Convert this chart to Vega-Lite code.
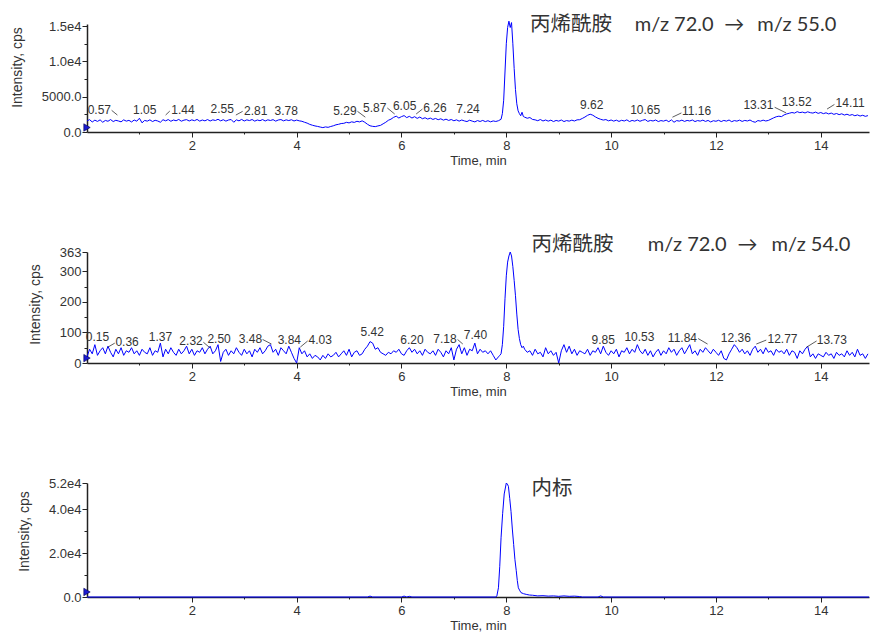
{
"$schema": "https://vega.github.io/schema/vega-lite/v6.json",
"padding": {"left": 10, "top": 15, "right": 0, "bottom": 0},
"autosize": {"type": "pad"},
"background": "white",
"spacing": 120,
"bounds": "flush",
"resolve": {"scale": {"y": "independent", "x": "independent"}},
"config": {
  "view": {"stroke": null},
  "axis": {"grid": false, "domainColor": "#222", "domainWidth": 1.5, "tickColor": "#222", "tickWidth": 1, "labelFont": "Liberation Sans", "labelFontSize": 13, "labelColor": "#333", "titleFont": "Liberation Sans", "titleFontWeight": "normal", "titleColor": "#333", "zindex": 1, "labelOverlap": false, "labelFlush": false},
  "axisX": {"titleFontSize": 13, "labelPadding": 2, "titlePadding": 2},
  "axisY": {"titleFontSize": 14, "labelPadding": 1, "titlePadding": 17}
},
"datasets": {
"a": [
{"t":0,"v":1580},{"t":0.05,"v":1750},{"t":0.1,"v":1420},{"t":0.15,"v":1680},{"t":0.2,"v":1500},{"t":0.25,"v":1720},{"t":0.3,"v":1380},{"t":0.35,"v":1640},{"t":0.4,"v":1520},{"t":0.45,"v":1760},{"t":0.5,"v":1480},{"t":0.55,"v":1660},{"t":0.6,"v":1560},{"t":0.65,"v":1440},{"t":0.7,"v":1720},{"t":0.75,"v":1540},{"t":0.8,"v":1650},{"t":0.85,"v":1420},{"t":0.9,"v":1700},{"t":0.95,"v":1530},
{"t":1,"v":1950},{"t":1.05,"v":1300},{"t":1.1,"v":1640},{"t":1.15,"v":1540},{"t":1.2,"v":1720},{"t":1.25,"v":1480},{"t":1.3,"v":1660},{"t":1.35,"v":1560},{"t":1.4,"v":1380},{"t":1.45,"v":1740},{"t":1.5,"v":1580},{"t":1.55,"v":1760},{"t":1.6,"v":1520},{"t":1.65,"v":1700},{"t":1.7,"v":1590},{"t":1.75,"v":1780},{"t":1.8,"v":1530},{"t":1.85,"v":1680},{"t":1.9,"v":1750},{"t":1.95,"v":1560},
{"t":2,"v":1720},{"t":2.05,"v":1600},{"t":2.1,"v":1780},{"t":2.15,"v":1540},{"t":2.2,"v":1700},{"t":2.25,"v":1580},{"t":2.3,"v":1760},{"t":2.35,"v":1560},{"t":2.4,"v":1720},{"t":2.45,"v":1630},{"t":2.5,"v":1800},{"t":2.55,"v":1580},{"t":2.6,"v":1740},{"t":2.65,"v":1540},{"t":2.7,"v":1700},{"t":2.75,"v":1770},{"t":2.8,"v":1380},{"t":2.85,"v":1720},{"t":2.9,"v":1580},{"t":2.95,"v":1780},
{"t":3,"v":1560},{"t":3.05,"v":1720},{"t":3.1,"v":1620},{"t":3.15,"v":1770},{"t":3.2,"v":1540},{"t":3.25,"v":1700},{"t":3.3,"v":1600},{"t":3.35,"v":1760},{"t":3.4,"v":1560},{"t":3.45,"v":1720},{"t":3.5,"v":1630},{"t":3.55,"v":1750},{"t":3.6,"v":1540},{"t":3.65,"v":1700},{"t":3.7,"v":1760},{"t":3.75,"v":1580},{"t":3.8,"v":1720},{"t":3.85,"v":1620},{"t":3.9,"v":1740},{"t":3.95,"v":1560},
{"t":4,"v":1690},{"t":4.05,"v":1580},{"t":4.1,"v":1520},{"t":4.15,"v":1380},{"t":4.2,"v":1260},{"t":4.25,"v":1080},{"t":4.3,"v":960},{"t":4.35,"v":860},{"t":4.4,"v":790},{"t":4.45,"v":700},{"t":4.5,"v":620},{"t":4.55,"v":720},{"t":4.6,"v":660},{"t":4.65,"v":780},{"t":4.7,"v":880},{"t":4.75,"v":1020},{"t":4.8,"v":1090},{"t":4.85,"v":1200},{"t":4.9,"v":1230},{"t":4.95,"v":1370},
{"t":5,"v":1290},{"t":5.05,"v":1440},{"t":5.1,"v":1360},{"t":5.15,"v":1520},{"t":5.2,"v":1430},{"t":5.25,"v":1580},{"t":5.3,"v":1380},{"t":5.35,"v":1100},{"t":5.4,"v":880},{"t":5.45,"v":800},{"t":5.5,"v":760},{"t":5.55,"v":860},{"t":5.6,"v":940},{"t":5.65,"v":1160},{"t":5.7,"v":1380},{"t":5.75,"v":1660},{"t":5.8,"v":1820},{"t":5.85,"v":2080},{"t":5.9,"v":2240},{"t":5.95,"v":1980},
{"t":6,"v":2180},{"t":6.05,"v":2320},{"t":6.1,"v":2040},{"t":6.15,"v":2220},{"t":6.2,"v":1980},{"t":6.25,"v":2170},{"t":6.3,"v":1930},{"t":6.35,"v":2120},{"t":6.4,"v":1880},{"t":6.45,"v":2020},{"t":6.5,"v":1830},{"t":6.55,"v":1970},{"t":6.6,"v":1780},{"t":6.65,"v":1920},{"t":6.7,"v":1740},{"t":6.75,"v":1870},{"t":6.8,"v":1680},{"t":6.85,"v":1820},{"t":6.9,"v":1640},{"t":6.95,"v":1770},
{"t":7,"v":1590},{"t":7.05,"v":1720},{"t":7.1,"v":1540},{"t":7.15,"v":1700},{"t":7.2,"v":1570},{"t":7.25,"v":1480},{"t":7.3,"v":1670},{"t":7.35,"v":1540},{"t":7.4,"v":1430},{"t":7.45,"v":1620},{"t":7.5,"v":1490},{"t":7.55,"v":1640},{"t":7.6,"v":1470},{"t":7.65,"v":1600},{"t":7.7,"v":1440},{"t":7.75,"v":1570},{"t":7.8,"v":1490},{"t":7.85,"v":1600},{"t":7.9,"v":1800},
{"t":7.925,"v":2600},{"t":7.95,"v":4500},{"t":7.975,"v":8500},{"t":8,"v":12500},{"t":8.025,"v":14800},{"t":8.05,"v":15700},{"t":8.075,"v":14800},{"t":8.1,"v":15500},{"t":8.125,"v":12500},{"t":8.15,"v":9000},{"t":8.175,"v":6000},{"t":8.2,"v":4000},{"t":8.225,"v":3000},{"t":8.25,"v":2600},{"t":8.275,"v":2300},{"t":8.3,"v":2800},{"t":8.325,"v":2200},{"t":8.35,"v":2100},
{"t":8.4,"v":1950},{"t":8.45,"v":2050},{"t":8.5,"v":1780},{"t":8.55,"v":1720},{"t":8.6,"v":1600},{"t":8.65,"v":1770},{"t":8.7,"v":1560},{"t":8.75,"v":1700},{"t":8.8,"v":1540},{"t":8.85,"v":1680},{"t":8.9,"v":1480},{"t":8.95,"v":1640},
{"t":9,"v":1540},{"t":9.05,"v":1700},{"t":9.1,"v":1480},{"t":9.15,"v":1620},{"t":9.2,"v":1540},{"t":9.25,"v":1680},{"t":9.3,"v":1560},{"t":9.35,"v":1720},{"t":9.4,"v":1740},{"t":9.45,"v":1920},{"t":9.5,"v":2120},{"t":9.55,"v":2360},{"t":9.6,"v":2520},{"t":9.65,"v":2380},{"t":9.7,"v":2140},{"t":9.75,"v":1940},{"t":9.8,"v":1800},{"t":9.85,"v":1690},{"t":9.9,"v":1760},{"t":9.95,"v":1580},
{"t":10,"v":1700},{"t":10.05,"v":1540},{"t":10.1,"v":1680},{"t":10.15,"v":1500},{"t":10.2,"v":1660},{"t":10.25,"v":1560},{"t":10.3,"v":1720},{"t":10.35,"v":1480},{"t":10.4,"v":1640},{"t":10.45,"v":1540},{"t":10.5,"v":1700},{"t":10.55,"v":1520},{"t":10.6,"v":1660},{"t":10.65,"v":1760},{"t":10.7,"v":1500},{"t":10.75,"v":1640},{"t":10.8,"v":1560},{"t":10.85,"v":1700},{"t":10.9,"v":1480},{"t":10.95,"v":1620},
{"t":11,"v":1540},{"t":11.05,"v":1680},{"t":11.1,"v":1460},{"t":11.15,"v":1720},{"t":11.2,"v":1380},{"t":11.25,"v":1620},{"t":11.3,"v":1540},{"t":11.35,"v":1680},{"t":11.4,"v":1500},{"t":11.45,"v":1640},{"t":11.5,"v":1560},{"t":11.55,"v":1700},{"t":11.6,"v":1480},{"t":11.65,"v":1620},{"t":11.7,"v":1540},{"t":11.75,"v":1680},{"t":11.8,"v":1500},{"t":11.85,"v":1640},{"t":11.9,"v":1420},{"t":11.95,"v":1600},
{"t":12,"v":1520},{"t":12.05,"v":1660},{"t":12.1,"v":1480},{"t":12.15,"v":1640},{"t":12.2,"v":1540},{"t":12.25,"v":1700},{"t":12.3,"v":1460},{"t":12.35,"v":1620},{"t":12.4,"v":1540},{"t":12.45,"v":1680},{"t":12.5,"v":1500},{"t":12.55,"v":1640},{"t":12.6,"v":1560},{"t":12.65,"v":1700},{"t":12.7,"v":1480},{"t":12.75,"v":1380},{"t":12.8,"v":1620},{"t":12.85,"v":1540},{"t":12.9,"v":1680},{"t":12.95,"v":1560},
{"t":13,"v":1640},{"t":13.05,"v":1820},{"t":13.1,"v":2000},{"t":13.15,"v":2160},{"t":13.2,"v":2240},{"t":13.25,"v":2180},{"t":13.3,"v":2420},{"t":13.35,"v":2560},{"t":13.4,"v":2660},{"t":13.45,"v":2760},{"t":13.5,"v":2680},{"t":13.55,"v":2880},{"t":13.6,"v":2740},{"t":13.65,"v":2820},{"t":13.7,"v":2700},{"t":13.75,"v":2860},{"t":13.8,"v":2740},{"t":13.85,"v":2680},{"t":13.9,"v":2820},{"t":13.95,"v":2640},
{"t":14,"v":2760},{"t":14.05,"v":2600},{"t":14.1,"v":2720},{"t":14.15,"v":2560},{"t":14.2,"v":2680},{"t":14.25,"v":2500},{"t":14.3,"v":2620},{"t":14.35,"v":2460},{"t":14.4,"v":2580},{"t":14.45,"v":2400},{"t":14.5,"v":2520},{"t":14.55,"v":2360},{"t":14.6,"v":2470},{"t":14.65,"v":2300},{"t":14.7,"v":2420},{"t":14.75,"v":2260},{"t":14.8,"v":2370},{"t":14.85,"v":2220},{"t":14.9,"v":2320}
],
"b": [
{"t":0,"v":20},{"t":0.05,"v":45},{"t":0.1,"v":30},{"t":0.15,"v":60},{"t":0.2,"v":25},{"t":0.25,"v":40},{"t":0.3,"v":50},{"t":0.35,"v":30},{"t":0.4,"v":55},{"t":0.45,"v":35},{"t":0.5,"v":20},{"t":0.55,"v":45},{"t":0.6,"v":30},{"t":0.65,"v":50},{"t":0.7,"v":25},{"t":0.75,"v":40},{"t":0.8,"v":35},{"t":0.85,"v":50},{"t":0.9,"v":30},{"t":0.95,"v":40},
{"t":1,"v":25},{"t":1.05,"v":45},{"t":1.1,"v":35},{"t":1.15,"v":30},{"t":1.2,"v":50},{"t":1.25,"v":25},{"t":1.3,"v":40},{"t":1.35,"v":35},{"t":1.4,"v":65},{"t":1.45,"v":20},{"t":1.5,"v":45},{"t":1.55,"v":30},{"t":1.6,"v":50},{"t":1.65,"v":35},{"t":1.7,"v":25},{"t":1.75,"v":45},{"t":1.8,"v":30},{"t":1.85,"v":40},{"t":1.9,"v":55},{"t":1.95,"v":30},
{"t":2,"v":45},{"t":2.05,"v":25},{"t":2.1,"v":40},{"t":2.15,"v":35},{"t":2.2,"v":50},{"t":2.25,"v":30},{"t":2.3,"v":45},{"t":2.35,"v":55},{"t":2.4,"v":30},{"t":2.45,"v":40},{"t":2.5,"v":60},{"t":2.55,"v":5},{"t":2.6,"v":35},{"t":2.65,"v":45},{"t":2.7,"v":25},{"t":2.75,"v":40},{"t":2.8,"v":30},{"t":2.85,"v":50},{"t":2.9,"v":35},{"t":2.95,"v":25},
{"t":3,"v":45},{"t":3.05,"v":30},{"t":3.1,"v":40},{"t":3.15,"v":20},{"t":3.2,"v":45},{"t":3.25,"v":35},{"t":3.3,"v":50},{"t":3.35,"v":30},{"t":3.4,"v":40},{"t":3.45,"v":55},{"t":3.5,"v":60},{"t":3.55,"v":35},{"t":3.6,"v":45},{"t":3.65,"v":25},{"t":3.7,"v":50},{"t":3.75,"v":40},{"t":3.8,"v":30},{"t":3.85,"v":55},{"t":3.9,"v":35},{"t":3.95,"v":15},
{"t":4,"v":0},{"t":4.05,"v":50},{"t":4.1,"v":30},{"t":4.15,"v":40},{"t":4.2,"v":20},{"t":4.25,"v":30},{"t":4.3,"v":15},{"t":4.35,"v":25},{"t":4.4,"v":20},{"t":4.45,"v":10},{"t":4.5,"v":25},{"t":4.55,"v":15},{"t":4.6,"v":30},{"t":4.65,"v":20},{"t":4.7,"v":25},{"t":4.75,"v":35},{"t":4.8,"v":20},{"t":4.85,"v":30},{"t":4.9,"v":40},{"t":4.95,"v":25},
{"t":5,"v":45},{"t":5.05,"v":20},{"t":5.1,"v":35},{"t":5.15,"v":40},{"t":5.2,"v":25},{"t":5.25,"v":30},{"t":5.3,"v":45},{"t":5.35,"v":55},{"t":5.4,"v":70},{"t":5.45,"v":65},{"t":5.5,"v":45},{"t":5.55,"v":50},{"t":5.6,"v":35},{"t":5.65,"v":30},{"t":5.7,"v":25},{"t":5.75,"v":35},{"t":5.8,"v":30},{"t":5.85,"v":40},{"t":5.9,"v":35},{"t":5.95,"v":45},
{"t":6,"v":30},{"t":6.05,"v":25},{"t":6.1,"v":40},{"t":6.15,"v":50},{"t":6.2,"v":35},{"t":6.25,"v":45},{"t":6.3,"v":30},{"t":6.35,"v":40},{"t":6.4,"v":25},{"t":6.45,"v":45},{"t":6.5,"v":35},{"t":6.55,"v":30},{"t":6.6,"v":40},{"t":6.65,"v":25},{"t":6.7,"v":45},{"t":6.75,"v":35},{"t":6.8,"v":20},{"t":6.85,"v":40},{"t":6.9,"v":30},{"t":6.95,"v":50},
{"t":7,"v":10},{"t":7.05,"v":45},{"t":7.1,"v":60},{"t":7.15,"v":30},{"t":7.2,"v":50},{"t":7.25,"v":25},{"t":7.3,"v":45},{"t":7.35,"v":40},{"t":7.4,"v":65},{"t":7.45,"v":30},{"t":7.5,"v":45},{"t":7.55,"v":35},{"t":7.6,"v":40},{"t":7.65,"v":30},{"t":7.7,"v":40},{"t":7.75,"v":25},{"t":7.8,"v":10},{"t":7.85,"v":20},{"t":7.875,"v":25},
{"t":7.9,"v":30},{"t":7.925,"v":60},{"t":7.95,"v":120},{"t":7.975,"v":210},{"t":8,"v":285},{"t":8.025,"v":330},{"t":8.05,"v":350},{"t":8.075,"v":363},{"t":8.1,"v":350},{"t":8.125,"v":315},{"t":8.15,"v":270},{"t":8.175,"v":220},{"t":8.2,"v":160},{"t":8.225,"v":110},{"t":8.25,"v":80},{"t":8.275,"v":60},{"t":8.3,"v":50},{"t":8.325,"v":55},{"t":8.35,"v":45},
{"t":8.4,"v":35},{"t":8.45,"v":40},{"t":8.5,"v":25},{"t":8.55,"v":45},{"t":8.6,"v":30},{"t":8.65,"v":35},{"t":8.7,"v":20},{"t":8.75,"v":50},{"t":8.8,"v":30},{"t":8.85,"v":40},{"t":8.9,"v":25},{"t":8.95,"v":35},
{"t":9,"v":0},{"t":9.05,"v":40},{"t":9.1,"v":60},{"t":9.15,"v":35},{"t":9.2,"v":55},{"t":9.25,"v":30},{"t":9.3,"v":45},{"t":9.35,"v":25},{"t":9.4,"v":40},{"t":9.45,"v":35},{"t":9.5,"v":30},{"t":9.55,"v":45},{"t":9.6,"v":25},{"t":9.65,"v":40},{"t":9.7,"v":35},{"t":9.75,"v":50},{"t":9.8,"v":30},{"t":9.85,"v":55},{"t":9.9,"v":35},{"t":9.95,"v":25},
{"t":10,"v":40},{"t":10.05,"v":30},{"t":10.1,"v":45},{"t":10.15,"v":20},{"t":10.2,"v":40},{"t":10.25,"v":35},{"t":10.3,"v":50},{"t":10.35,"v":30},{"t":10.4,"v":45},{"t":10.45,"v":35},{"t":10.5,"v":60},{"t":10.55,"v":40},{"t":10.6,"v":30},{"t":10.65,"v":45},{"t":10.7,"v":25},{"t":10.75,"v":40},{"t":10.8,"v":20},{"t":10.85,"v":35},{"t":10.9,"v":45},{"t":10.95,"v":25},
{"t":11,"v":40},{"t":11.05,"v":30},{"t":11.1,"v":50},{"t":11.15,"v":35},{"t":11.2,"v":45},{"t":11.25,"v":25},{"t":11.3,"v":40},{"t":11.35,"v":50},{"t":11.4,"v":30},{"t":11.45,"v":45},{"t":11.5,"v":60},{"t":11.55,"v":30},{"t":11.6,"v":40},{"t":11.65,"v":25},{"t":11.7,"v":45},{"t":11.75,"v":35},{"t":11.8,"v":50},{"t":11.85,"v":40},{"t":11.9,"v":30},{"t":11.95,"v":45},
{"t":12,"v":35},{"t":12.05,"v":25},{"t":12.1,"v":40},{"t":12.15,"v":15},{"t":12.2,"v":10},{"t":12.25,"v":30},{"t":12.3,"v":45},{"t":12.35,"v":60},{"t":12.4,"v":50},{"t":12.45,"v":35},{"t":12.5,"v":45},{"t":12.55,"v":30},{"t":12.6,"v":40},{"t":12.65,"v":25},{"t":12.7,"v":45},{"t":12.75,"v":55},{"t":12.8,"v":35},{"t":12.85,"v":45},{"t":12.9,"v":30},{"t":12.95,"v":50},
{"t":13,"v":35},{"t":13.05,"v":40},{"t":13.1,"v":25},{"t":13.15,"v":45},{"t":13.2,"v":35},{"t":13.25,"v":40},{"t":13.3,"v":30},{"t":13.35,"v":45},{"t":13.4,"v":25},{"t":13.45,"v":40},{"t":13.5,"v":35},{"t":13.55,"v":15},{"t":13.6,"v":40},{"t":13.65,"v":30},{"t":13.7,"v":45},{"t":13.75,"v":55},{"t":13.8,"v":20},{"t":13.85,"v":30},{"t":13.9,"v":15},{"t":13.95,"v":30},
{"t":14,"v":25},{"t":14.05,"v":20},{"t":14.1,"v":35},{"t":14.15,"v":25},{"t":14.2,"v":30},{"t":14.25,"v":15},{"t":14.3,"v":35},{"t":14.35,"v":25},{"t":14.4,"v":30},{"t":14.45,"v":20},{"t":14.5,"v":40},{"t":14.55,"v":25},{"t":14.6,"v":35},{"t":14.65,"v":20},{"t":14.7,"v":45},{"t":14.75,"v":25},{"t":14.8,"v":30},{"t":14.85,"v":15},{"t":14.9,"v":30}
],
"c": [
{"t":0,"v":0},{"t":5.35,"v":0},{"t":5.4,"v":400},{"t":5.45,"v":0},{"t":6.0,"v":0},{"t":6.05,"v":400},{"t":6.1,"v":0},{"t":6.15,"v":300},{"t":6.2,"v":0},{"t":7.8,"v":0},{"t":7.82,"v":500},{"t":7.85,"v":4200},{"t":7.875,"v":14000},{"t":7.9,"v":27000},{"t":7.93,"v":38000},{"t":7.96,"v":47000},{"t":8,"v":52000},{"t":8.02,"v":51500},{"t":8.04,"v":50500},{"t":8.065,"v":45000},{"t":8.09,"v":39000},{"t":8.115,"v":31000},{"t":8.14,"v":24000},{"t":8.165,"v":17000},{"t":8.19,"v":12000},{"t":8.21,"v":7500},{"t":8.23,"v":4200},{"t":8.26,"v":2800},{"t":8.28,"v":2000},{"t":8.33,"v":1500},{"t":8.38,"v":1200},{"t":8.44,"v":900},{"t":8.5,"v":800},{"t":8.6,"v":500},{"t":8.7,"v":600},{"t":8.8,"v":400},{"t":8.9,"v":500},{"t":9,"v":300},{"t":9.1,"v":500},{"t":9.2,"v":300},{"t":9.3,"v":400},{"t":9.4,"v":200},{"t":9.45,"v":0},{"t":9.75,"v":0},{"t":9.8,"v":500},{"t":9.85,"v":0},{"t":14.92,"v":0}
],
"labels": [
{"p":1,"x":0.235,"y":3070,"label":"0.57"},{"p":1,"x":1.1,"y":3070,"label":"1.05"},{"p":1,"x":1.83,"y":3070,"label":"1.44"},{"p":1,"x":2.58,"y":3210,"label":"2.55"},{"p":1,"x":3.22,"y":2930,"label":"2.81"},{"p":1,"x":3.8,"y":2930,"label":"3.78"},{"p":1,"x":4.92,"y":2930,"label":"5.29"},{"p":1,"x":5.49,"y":3400,"label":"5.87"},{"p":1,"x":6.06,"y":3630,"label":"6.05"},{"p":1,"x":6.64,"y":3400,"label":"6.26"},{"p":1,"x":7.27,"y":3210,"label":"7.24"},{"p":1,"x":9.63,"y":3780,"label":"9.62"},{"p":1,"x":10.65,"y":3070,"label":"10.65"},{"p":1,"x":11.63,"y":2930,"label":"11.16"},{"p":1,"x":12.81,"y":3780,"label":"13.31"},{"p":1,"x":13.54,"y":4250,"label":"13.52"},{"p":1,"x":14.56,"y":4150,"label":"14.11"},
{"p":2,"x":0.2,"y":85,"label":"0.15"},{"p":2,"x":0.765,"y":69,"label":"0.36"},{"p":2,"x":1.4,"y":85,"label":"1.37"},{"p":2,"x":1.985,"y":71,"label":"2.32"},{"p":2,"x":2.52,"y":77,"label":"2.50"},{"p":2,"x":3.12,"y":77,"label":"3.48"},{"p":2,"x":3.86,"y":74,"label":"3.84"},{"p":2,"x":4.45,"y":74,"label":"4.03"},{"p":2,"x":5.44,"y":101,"label":"5.42"},{"p":2,"x":6.2,"y":74,"label":"6.20"},{"p":2,"x":6.83,"y":80,"label":"7.18"},{"p":2,"x":7.41,"y":90,"label":"7.40"},{"p":2,"x":9.85,"y":74,"label":"9.85"},{"p":2,"x":10.54,"y":85,"label":"10.53"},{"p":2,"x":11.36,"y":82,"label":"11.84"},{"p":2,"x":12.38,"y":82,"label":"12.36"},{"p":2,"x":13.27,"y":77,"label":"12.77"},{"p":2,"x":14.21,"y":74,"label":"13.73"}
],
"leads": [
{"p":1,"x":0.47,"y":3070,"x2":0.58,"y2":2400},{"p":1,"x":1.5,"y":2400,"x2":1.58,"y2":2970},{"p":1,"x":2.84,"y":2400,"x2":2.97,"y2":2930},{"p":1,"x":5.16,"y":2930,"x2":5.31,"y2":2100},{"p":1,"x":5.73,"y":3400,"x2":5.87,"y2":2550},{"p":1,"x":6.28,"y":2550,"x2":6.4,"y2":3250},{"p":1,"x":11.17,"y":2100,"x2":11.34,"y2":2700},{"p":1,"x":13.12,"y":3500,"x2":13.34,"y2":2700},{"p":1,"x":14.12,"y":3250,"x2":14.26,"y2":3900},
{"p":2,"x":0.4,"y":52,"x2":0.53,"y2":65},{"p":2,"x":2.22,"y":68,"x2":2.35,"y2":49},{"p":2,"x":3.35,"y":77,"x2":3.52,"y2":62},{"p":2,"x":4.07,"y":52,"x2":4.21,"y2":72},{"p":2,"x":7.07,"y":77,"x2":7.17,"y2":62},{"p":2,"x":11.66,"y":80,"x2":11.84,"y2":62},{"p":2,"x":12.77,"y":62,"x2":12.96,"y2":75},{"p":2,"x":13.73,"y":52,"x2":13.92,"y2":72}
],
"names": [
{"p":1,"x":8.45,"y":15140,"text":"丙烯酰胺"},
{"p":2,"x":8.48,"y":386,"text":"丙烯酰胺"},
{"p":3,"x":8.48,"y":49250,"text":"内标"}
],
"mz": [
{"p":1,"x":10.45,"y":15140,"text":"m/z 72.0"},{"p":1,"x":12.16,"y":15140,"text":"→"},{"p":1,"x":12.79,"y":15140,"text":"m/z 55.0"},
{"p":2,"x":10.7,"y":386,"text":"m/z 72.0"},{"p":2,"x":12.41,"y":386,"text":"→"},{"p":2,"x":13.06,"y":386,"text":"m/z 54.0"}
],
"origin": [{"p":1,"t":0,"v":640},{"p":2,"t":0,"v":16},{"p":3,"t":0,"v":2300}]
},
"vconcat": [
{
 "width": 782, "height": 108,
 "layer": [
  {"data": {"name": "a"}, "mark": {"type": "line", "color": "#0000ff", "strokeWidth": 1},
   "encoding": {
    "x": {"field": "t", "type": "quantitative", "scale": {"domain": [0, 14.92], "nice": false, "zero": false},
          "axis": {"title": "Time, min", "format": "d", "tickCount": 30, "labelOverlap": false, "values": [1,2,3,4,5,6,7,8,9,10,11,12,13,14], "labelExpr": "datum.value % 2 == 0 ? datum.label : ''", "tickSize": {"condition": {"test": "datum.value % 2 == 0", "value": 5}, "value": 2}}},
    "y": {"field": "v", "type": "quantitative", "scale": {"domain": [0, 15300], "nice": false},
          "axis": {"title": "Intensity, cps", "titleY": 43, "tickCount": 30, "labelOverlap": false, "values": [0,2500,5000,7500,10000,12500,15000], "labelExpr": "datum.value == 0 ? '0.0' : datum.value == 5000 ? '5000.0' : datum.value == 10000 ? '1.0e4' : datum.value == 15000 ? '1.5e4' : ''", "tickSize": {"condition": {"test": "datum.value % 5000 == 0", "value": 5}, "value": 3}}}
   }},
  {"data": {"name": "labels"}, "transform": [{"filter": "datum.p == 1"}],
   "mark": {"type": "text", "font": "Liberation Sans", "fontSize": 12, "color": "#333", "baseline": "middle", "align": "center"},
   "encoding": {"x": {"field": "x", "type": "quantitative"}, "y": {"field": "y", "type": "quantitative"}, "text": {"field": "label"}}},
  {"data": {"name": "leads"}, "transform": [{"filter": "datum.p == 1"}],
   "mark": {"type": "rule", "color": "#333", "strokeWidth": 0.8},
   "encoding": {"x": {"field": "x", "type": "quantitative"}, "y": {"field": "y", "type": "quantitative"}, "x2": {"field": "x2"}, "y2": {"field": "y2"}}},
  {"data": {"name": "origin"}, "transform": [{"filter": "datum.p == 1"}],
   "mark": {"type": "point", "shape": "triangle-right", "filled": true, "size": 55, "color": "#1a1ad0", "stroke": "#000050", "strokeWidth": 0.6, "opacity": 1},
   "encoding": {"x": {"field": "t", "type": "quantitative"}, "y": {"field": "v", "type": "quantitative"}}},
  {"data": {"name": "names"}, "transform": [{"filter": "datum.p == 1"}],
   "mark": {"type": "text", "font": "Noto Sans CJK SC", "fontSize": 20.5, "color": "#333", "align": "left", "baseline": "middle"},
   "encoding": {"x": {"field": "x", "type": "quantitative"}, "y": {"field": "y", "type": "quantitative"}, "text": {"field": "text"}}},
  {"data": {"name": "mz"}, "transform": [{"filter": "datum.p == 1"}],
   "mark": {"type": "text", "font": "Lato", "fontSize": 20, "color": "#333", "align": "left", "baseline": "middle"},
   "encoding": {"x": {"field": "x", "type": "quantitative"}, "y": {"field": "y", "type": "quantitative"}, "text": {"field": "text"}}}
 ]
},
{
 "width": 782, "height": 111,
 "layer": [
  {"data": {"name": "b"}, "mark": {"type": "line", "color": "#0000ff", "strokeWidth": 1},
   "encoding": {
    "x": {"field": "t", "type": "quantitative", "scale": {"domain": [0, 14.92], "nice": false, "zero": false},
          "axis": {"title": "Time, min", "format": "d", "tickCount": 30, "labelOverlap": false, "values": [1,2,3,4,5,6,7,8,9,10,11,12,13,14], "labelExpr": "datum.value % 2 == 0 ? datum.label : ''", "tickSize": {"condition": {"test": "datum.value % 2 == 0", "value": 5}, "value": 2}}},
    "y": {"field": "v", "type": "quantitative", "scale": {"domain": [0, 363], "nice": false},
          "axis": {"title": "Intensity, cps", "titleY": 52, "format": "d", "tickCount": 30, "labelOverlap": false, "values": [0,50,100,150,200,250,300,363], "labelExpr": "datum.value % 100 == 0 || datum.value == 363 ? datum.label : ''", "tickSize": {"condition": {"test": "datum.value % 100 == 0 || datum.value == 363", "value": 5}, "value": 3}}}
   }},
  {"data": {"name": "labels"}, "transform": [{"filter": "datum.p == 2"}],
   "mark": {"type": "text", "font": "Liberation Sans", "fontSize": 12, "color": "#333", "baseline": "middle", "align": "center"},
   "encoding": {"x": {"field": "x", "type": "quantitative"}, "y": {"field": "y", "type": "quantitative"}, "text": {"field": "label"}}},
  {"data": {"name": "leads"}, "transform": [{"filter": "datum.p == 2"}],
   "mark": {"type": "rule", "color": "#333", "strokeWidth": 0.8},
   "encoding": {"x": {"field": "x", "type": "quantitative"}, "y": {"field": "y", "type": "quantitative"}, "x2": {"field": "x2"}, "y2": {"field": "y2"}}},
  {"data": {"name": "origin"}, "transform": [{"filter": "datum.p == 2"}],
   "mark": {"type": "point", "shape": "triangle-right", "filled": true, "size": 55, "color": "#1a1ad0", "stroke": "#000050", "strokeWidth": 0.6, "opacity": 1},
   "encoding": {"x": {"field": "t", "type": "quantitative"}, "y": {"field": "v", "type": "quantitative"}}},
  {"data": {"name": "names"}, "transform": [{"filter": "datum.p == 2"}],
   "mark": {"type": "text", "font": "Noto Sans CJK SC", "fontSize": 20.5, "color": "#333", "align": "left", "baseline": "middle"},
   "encoding": {"x": {"field": "x", "type": "quantitative"}, "y": {"field": "y", "type": "quantitative"}, "text": {"field": "text"}}},
  {"data": {"name": "mz"}, "transform": [{"filter": "datum.p == 2"}],
   "mark": {"type": "text", "font": "Lato", "fontSize": 20, "color": "#333", "align": "left", "baseline": "middle"},
   "encoding": {"x": {"field": "x", "type": "quantitative"}, "y": {"field": "y", "type": "quantitative"}, "text": {"field": "text"}}}
 ]
},
{
 "width": 782, "height": 114,
 "layer": [
  {"data": {"name": "c"}, "mark": {"type": "line", "color": "#0000ff", "strokeWidth": 1},
   "encoding": {
    "x": {"field": "t", "type": "quantitative", "scale": {"domain": [0, 14.92], "nice": false, "zero": false},
          "axis": {"title": "Time, min", "format": "d", "tickCount": 30, "labelOverlap": false, "values": [1,2,3,4,5,6,7,8,9,10,11,12,13,14], "labelExpr": "datum.value % 2 == 0 ? datum.label : ''", "tickSize": {"condition": {"test": "datum.value % 2 == 0", "value": 5}, "value": 2}}},
    "y": {"field": "v", "type": "quantitative", "scale": {"domain": [0, 52000], "nice": false},
          "axis": {"title": "Intensity, cps", "titleY": 48, "tickCount": 30, "labelOverlap": false, "values": [0,10000,20000,30000,40000,52000], "labelExpr": "datum.value == 0 ? '0.0' : datum.value == 20000 ? '2.0e4' : datum.value == 40000 ? '4.0e4' : datum.value == 52000 ? '5.2e4' : ''", "tickSize": {"condition": {"test": "datum.value % 20000 == 0 || datum.value == 52000", "value": 5}, "value": 3}}}
   }},
  {"data": {"name": "origin"}, "transform": [{"filter": "datum.p == 3"}],
   "mark": {"type": "point", "shape": "triangle-right", "filled": true, "size": 55, "color": "#1a1ad0", "stroke": "#000050", "strokeWidth": 0.6, "opacity": 1},
   "encoding": {"x": {"field": "t", "type": "quantitative"}, "y": {"field": "v", "type": "quantitative"}}},
  {"data": {"name": "names"}, "transform": [{"filter": "datum.p == 3"}],
   "mark": {"type": "text", "font": "Noto Sans CJK SC", "fontSize": 20.5, "color": "#333", "align": "left", "baseline": "middle"},
   "encoding": {"x": {"field": "x", "type": "quantitative"}, "y": {"field": "y", "type": "quantitative"}, "text": {"field": "text"}}}
 ]
}
]
}
